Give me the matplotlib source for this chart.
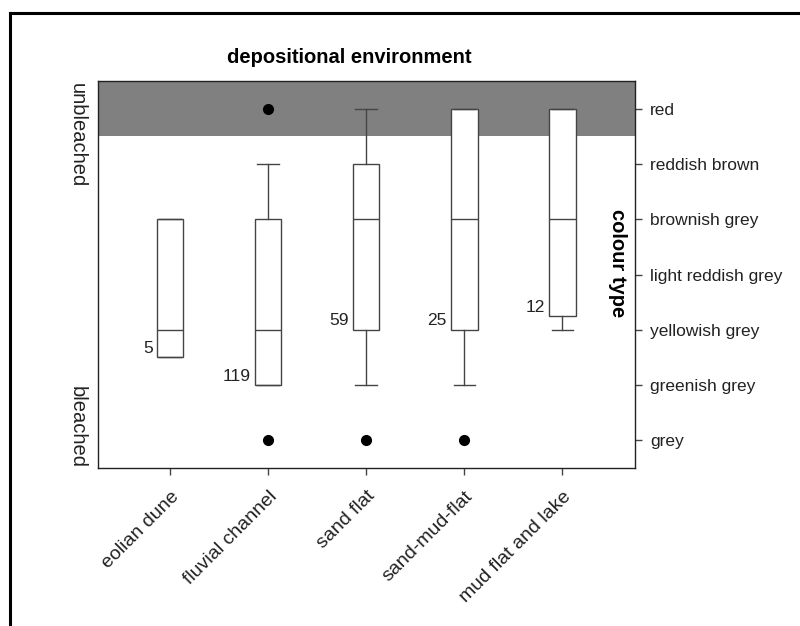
import numpy as np
import matplotlib.pyplot as plt
from matplotlib.lines import Line2D

plt.rcParams['font.family'] = ['Liberation Sans', 'DejaVu Sans']

# depositional environments and colour classes
environments = ["eolian dune", "fluvial channel", "sand flat", "sand-mud-flat", "mud flat and lake"]
colour_types = ["grey", "greenish grey", "yellowish grey", "light reddish grey",
                "brownish grey", "reddish brown", "red"]

# box summaries on the colour-type scale (0 = grey ... 6 = red)
q1 = [1.5, 1, 2, 2, 2.25]
med = [2, 2, 4, 4, 4]
q3 = [4, 4, 5, 6, 6]
whislo = [1.5, 1, 1, 1, 2]
whishi = [4, 5, 6, 6, 6]
outliers = [[], [6, 0], [0], [0], []]
n_samples = [5, 119, 59, 25, 12]

stats = []
for i in range(len(environments)):
    stats.append(dict(q1=q1[i], med=med[i], q3=q3[i], whislo=whislo[i],
                      whishi=whishi[i], fliers=outliers[i]))

fig = plt.figure(figsize=(8, 6.26), dpi=100)
ax = fig.add_axes([97.5/800, 1-468.3/626, 537.5/800, 387.6/626])

line_col = "#454545"
pos = np.arange(1, len(environments)+1)

ax.axhspan(5.5, 7, color="#808080", lw=0, zorder=0)

ax.bxp(stats, positions=pos, widths=0.27, patch_artist=True,
       boxprops=dict(facecolor="white", edgecolor=line_col, lw=1.0),
       medianprops=dict(color=line_col, lw=1.0),
       whiskerprops=dict(color=line_col, lw=1.0),
       capprops=dict(color=line_col, lw=1.0),
       capwidths=0.22,
       flierprops=dict(marker="o", markerfacecolor="black", markeredgecolor="black",
                       markersize=7, linestyle="none"),
       zorder=2)

# sample counts beside each box
for p, lo, n in zip(pos, q1, n_samples):
    ax.annotate(str(n), (p - 0.135, lo), xytext=(-3, 1), textcoords="offset points",
                ha="right", va="bottom", fontsize=12.5, color="#222222")

ax.set_xlim(0.26, 5.74)
ax.set_ylim(-0.51, 6.51)
ax.set_xticks(pos)
ax.set_xticklabels(environments, rotation=45, ha="right", va="top",
                   rotation_mode="anchor", fontsize=14, color="#222222")
ax.set_yticks(range(len(colour_types)))
ax.set_yticklabels(colour_types, fontsize=12.5, color="#222222")
ax.yaxis.tick_right()
ax.tick_params(axis="y", direction="out", length=5, width=1, color=line_col, pad=6)
ax.tick_params(axis="x", direction="out", length=5, width=1, color=line_col, pad=9)
for s in ax.spines.values():
    s.set_color("#222222")
    s.set_linewidth(1.0)

ax.text(0.468, 1.061, "depositional environment", transform=ax.transAxes,
        ha="center", va="center", fontsize=14.5, fontweight="bold")
ax.text(0.968, 0.53, "colour type", transform=ax.transAxes, rotation=270,
        ha="center", va="center", fontsize=14.5, fontweight="bold")
ax.text(-0.038, 0.994, "unbleached", transform=ax.transAxes, rotation=270,
        ha="center", va="top", fontsize=14.5, color="#222222")
ax.text(-0.038, 0.0, "bleached", transform=ax.transAxes, rotation=270,
        ha="center", va="bottom", fontsize=14.5, color="#222222")

# frame along the left and top of the figure
fig.add_artist(Line2D([9.5/800, 9.5/800], [0, 1-13/626], transform=fig.transFigure,
                      color="black", lw=2.2, solid_capstyle="projecting"))
fig.add_artist(Line2D([9.5/800, 1], [1-13/626, 1-13/626], transform=fig.transFigure,
                      color="black", lw=2.2, solid_capstyle="projecting"))

fig.savefig("out.png", dpi=100)
